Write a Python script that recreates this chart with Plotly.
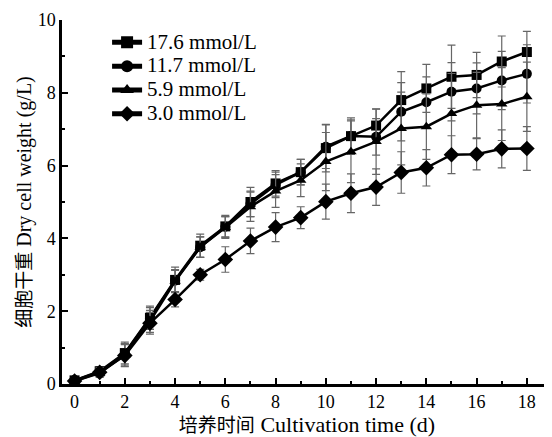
import plotly.graph_objects as go

days = list(range(19))
series_names = ["17.6 mmol/L", "11.7 mmol/L", "5.9 mmol/L", "3.0 mmol/L"]
v176 = [0.10, 0.35, 0.85, 1.82, 2.86, 3.80, 4.33, 5.00, 5.51, 5.82, 6.48, 6.81, 7.10, 7.80, 8.12, 8.44, 8.49, 8.86, 9.12]
v117 = [0.10, 0.33, 0.83, 1.80, 2.84, 3.76, 4.32, 4.95, 5.47, 5.82, 6.52, 6.81, 6.79, 7.48, 7.74, 8.03, 8.12, 8.34, 8.52]
v59 = [0.08, 0.30, 0.80, 1.72, 2.82, 3.76, 4.30, 4.87, 5.30, 5.60, 6.11, 6.38, 6.66, 7.02, 7.07, 7.43, 7.66, 7.69, 7.89]
v30 = [0.08, 0.32, 0.78, 1.67, 2.32, 3.00, 3.42, 3.93, 4.31, 4.57, 5.01, 5.24, 5.41, 5.81, 5.94, 6.30, 6.31, 6.46, 6.47]
e176 = [0.05, 0.12, 0.30, 0.32, 0.35, 0.32, 0.30, 0.40, 0.35, 0.35, 0.65, 0.50, 0.45, 0.78, 0.66, 0.87, 0.62, 0.70, 0.57]
e117 = [0.05, 0.12, 0.28, 0.30, 0.30, 0.28, 0.28, 0.35, 0.35, 0.35, 0.60, 0.45, 0.50, 0.80, 0.70, 0.80, 0.70, 0.80, 0.80]
e59 = [0.05, 0.12, 0.30, 0.30, 0.30, 0.28, 0.30, 0.40, 0.45, 0.45, 0.80, 0.85, 0.90, 1.00, 0.90, 1.10, 0.90, 1.00, 0.95]
e30 = [0.05, 0.12, 0.30, 0.30, 0.20, 0.15, 0.35, 0.35, 0.40, 0.30, 0.48, 0.53, 0.50, 0.57, 0.50, 0.52, 0.43, 0.52, 0.60]
symbols = ["square", "circle", "triangle-up", "diamond"]

values = [v176, v117, v59, v30]
errors = [e176, e117, e59, e30]

font_main = "Liberation Serif, Times New Roman, Noto Sans CJK SC, serif"

fig = go.Figure()
for name, v, e, s in zip(series_names, values, errors, symbols):
    fig.add_trace(go.Scatter(
        x=days, y=v, name="<span style='font-size:21px'>" + name + "</span>",
        mode="lines+markers",
        line=dict(color="black", width=2.5),
        marker=dict(symbol=s, size=10 if s != "diamond" else 12, color="black"),
        error_y=dict(type="data", array=e, visible=True, color="#666666", thickness=1.2, width=4),
    ))

fig.update_layout(
    width=544, height=429,
    margin=dict(l=54, r=0, t=12, b=53),
    paper_bgcolor="white", plot_bgcolor="white",
    font=dict(family=font_main, size=18, color="black"),
    showlegend=True,
    legend=dict(x=0.092, y=0.985, xanchor="left", yanchor="top",
                font=dict(size=16, family=font_main), bgcolor="rgba(0,0,0,0)",
                tracegroupgap=0, itemsizing="constant"),
    xaxis=dict(
        range=[-0.5, 19], tickmode="linear", tick0=0, dtick=2,
        ticks="inside", ticklen=6, tickwidth=2, tickcolor="black",
        showline=True, linecolor="black", linewidth=2.5, showgrid=False, zeroline=False,
        minor=dict(ticks="inside", dtick=1, tick0=0, ticklen=3, tickwidth=2, tickcolor="black"),
        title=dict(text="<span style='font-size:19px'>培养时间</span> Cultivation time (d)", standoff=0, font=dict(size=22)),
        tickfont=dict(size=18),
    ),
    yaxis=dict(
        range=[0, 10], tickmode="linear", tick0=0, dtick=2,
        ticks="inside", ticklen=6, tickwidth=2, tickcolor="black",
        showline=True, linecolor="black", linewidth=2.5, showgrid=False, zeroline=False,
        minor=dict(ticks="inside", dtick=1, tick0=0, ticklen=3, tickwidth=2, tickcolor="black"),
        title=dict(text="<span style='font-size:19px'>细胞干重</span> Dry cell weight (g/L)", standoff=1, font=dict(size=20)),
        tickfont=dict(size=18),
    ),
)

fig.write_html("out.html")
